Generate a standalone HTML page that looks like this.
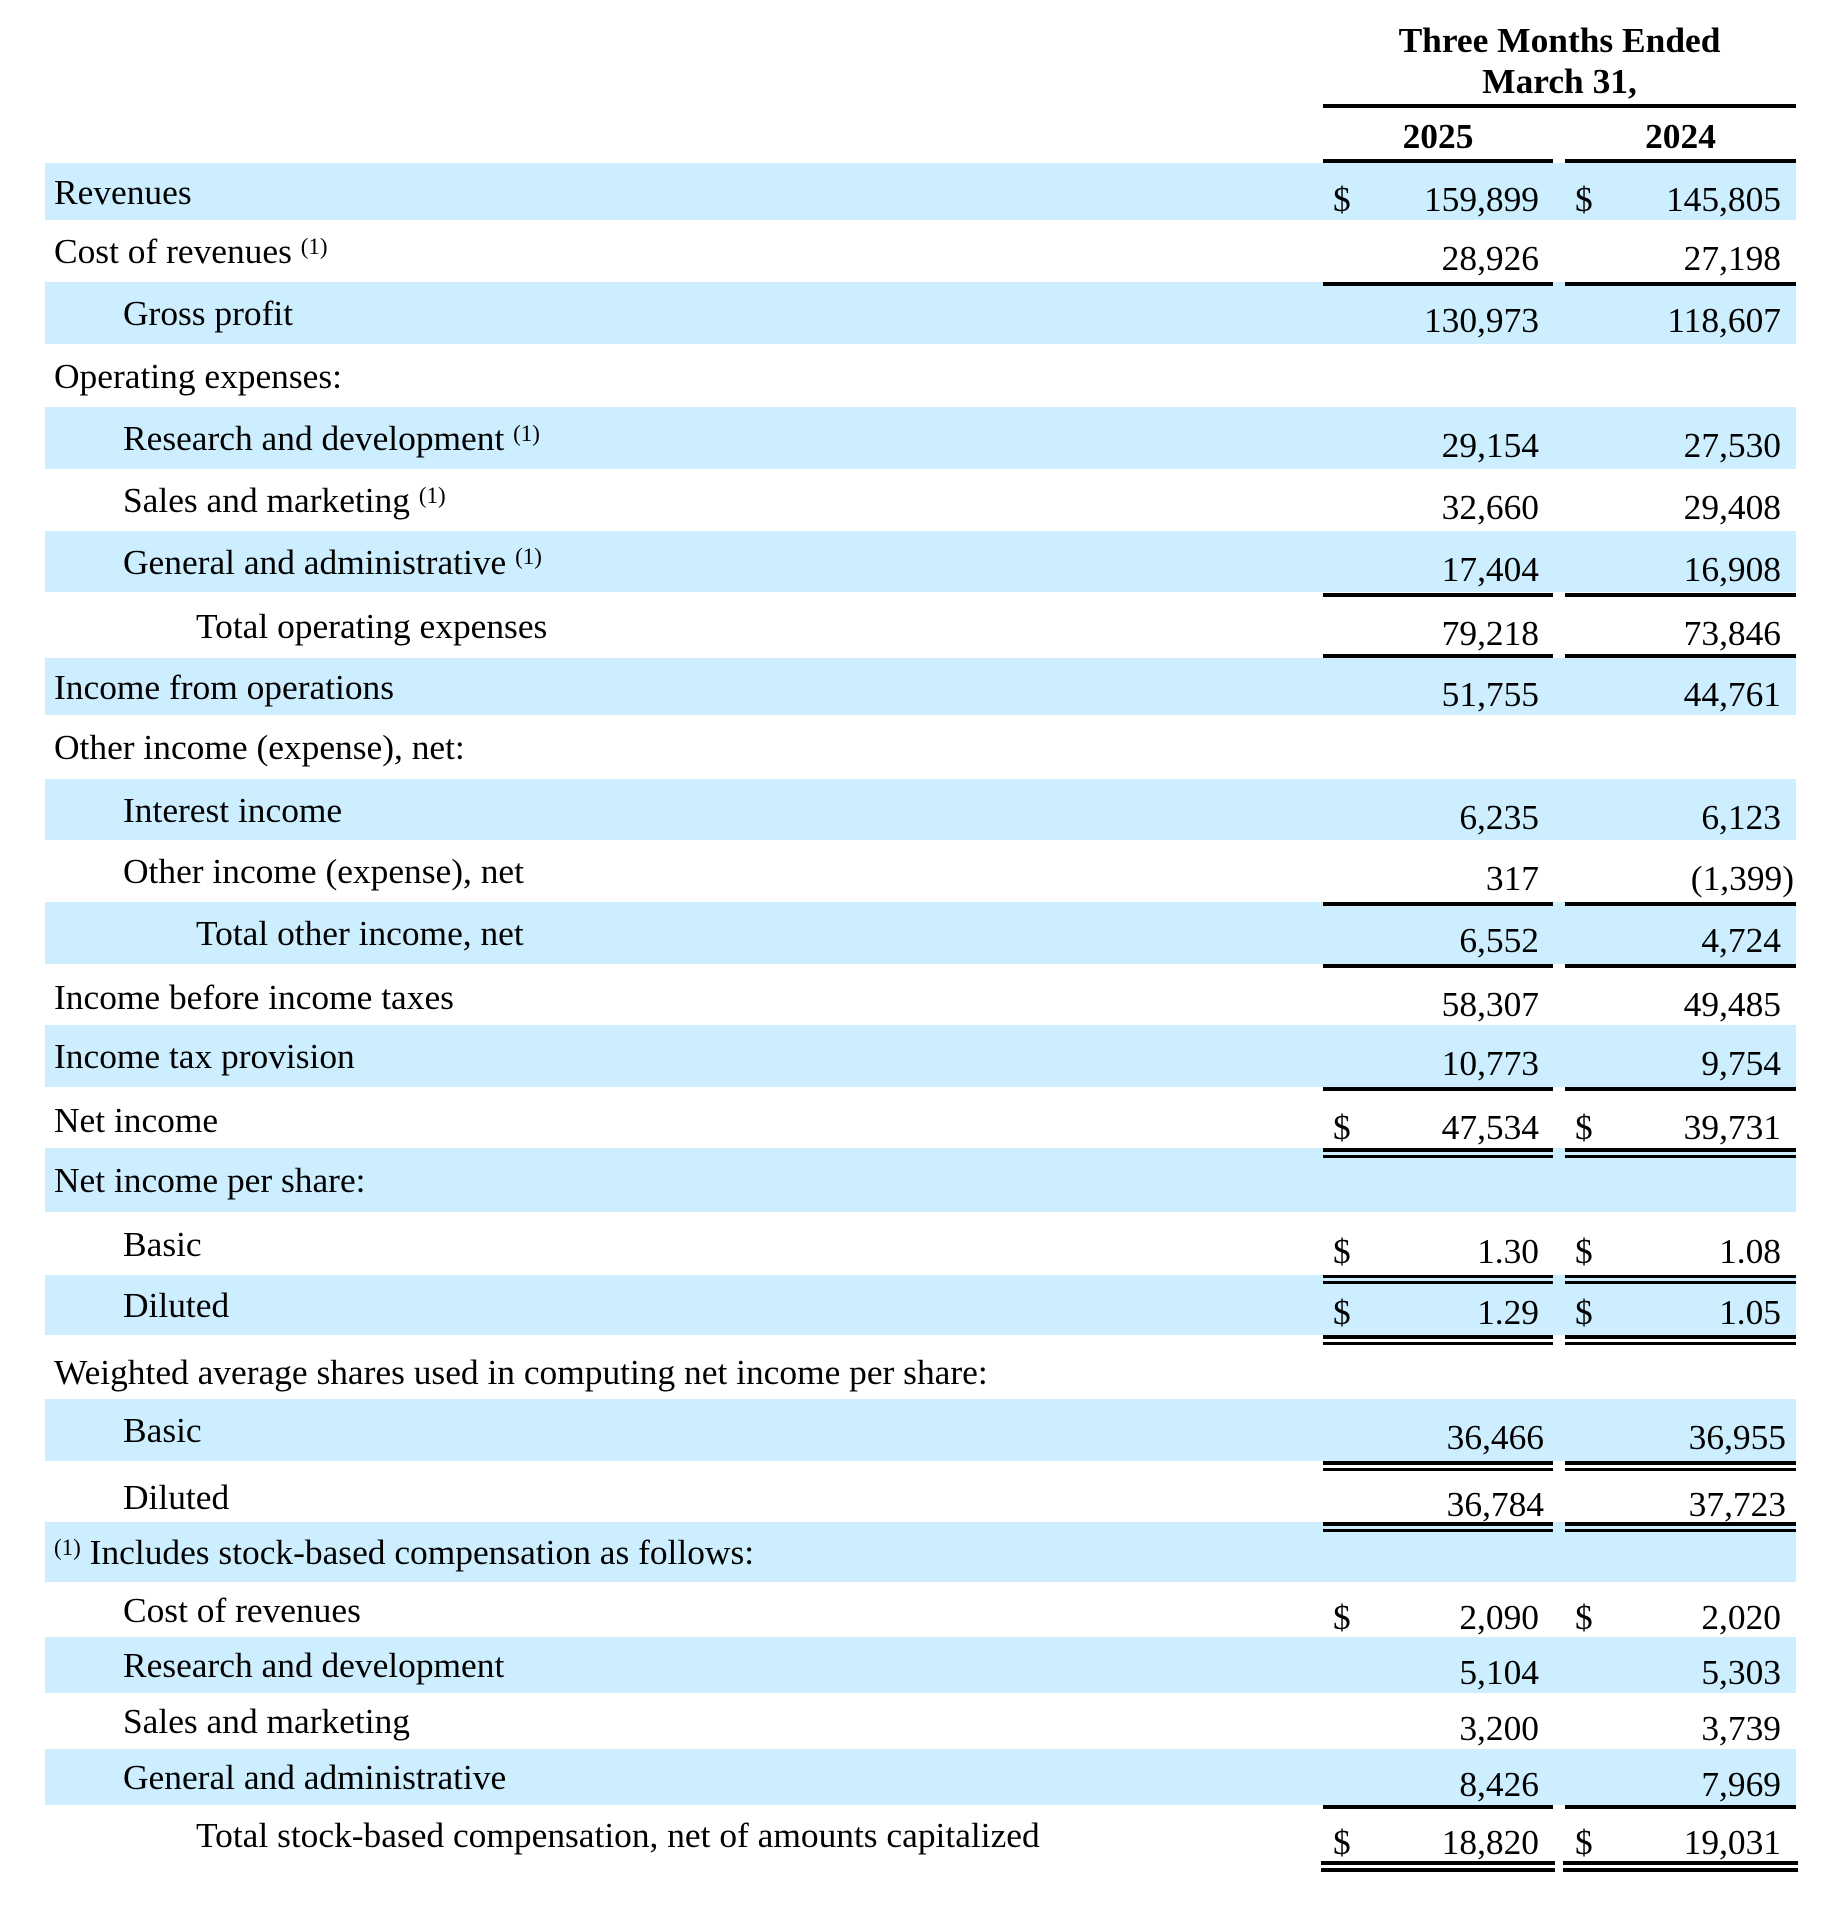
<!DOCTYPE html>
<html><head><meta charset="utf-8"><style>
html,body{margin:0;padding:0;background:#fff;}
body{width:1822px;height:1906px;position:relative;overflow:hidden;font-family:"Liberation Serif","Times New Roman",serif;color:#000;}
.r{position:absolute;left:45px;width:1751px;}
.b{background:#cceeff;}
.t{position:absolute;top:0;bottom:0;display:flex;align-items:center;font-size:35.4px;white-space:nowrap;}
.n{position:absolute;top:7px;bottom:-7px;display:flex;align-items:center;font-size:35.4px;white-space:nowrap;}
.l{position:absolute;background:#000;}
sup{font-size:23px;position:relative;top:-5px;vertical-align:top;line-height:1;}
.h{position:absolute;font-weight:bold;font-size:35.4px;white-space:nowrap;text-align:center;}
</style></head><body>

<div class="h" style="left:1323px;width:473px;top:19px;line-height:42px">Three Months Ended</div>
<div class="h" style="left:1323px;width:473px;top:60px;line-height:42px">March 31,</div>
<div class="h" style="left:1323px;width:230px;top:115px;line-height:42px">2025</div>
<div class="h" style="left:1565px;width:231px;top:115px;line-height:42px">2024</div>

<div class="r b" style="top:163px;height:57px"><div class="t" style="left:9px">Revenues</div><div class="n" style="left:1288px">$</div><div class="n" style="right:257px">159,899</div><div class="n" style="left:1530px">$</div><div class="n" style="right:15px">145,805</div></div>
<div class="r" style="top:220px;height:62px"><div class="t" style="left:9px">Cost of revenues&nbsp;<sup>(1)</sup></div><div class="n" style="right:257px">28,926</div><div class="n" style="right:15px">27,198</div></div>
<div class="r b" style="top:282px;height:62px"><div class="t" style="left:78px">Gross profit</div><div class="n" style="right:257px">130,973</div><div class="n" style="right:15px">118,607</div></div>
<div class="r" style="top:344px;height:63px"><div class="t" style="left:9px">Operating expenses:</div></div>
<div class="r b" style="top:407px;height:62px"><div class="t" style="left:78px">Research and development&nbsp;<sup>(1)</sup></div><div class="n" style="right:257px">29,154</div><div class="n" style="right:15px">27,530</div></div>
<div class="r" style="top:469px;height:62px"><div class="t" style="left:78px">Sales and marketing&nbsp;<sup>(1)</sup></div><div class="n" style="right:257px">32,660</div><div class="n" style="right:15px">29,408</div></div>
<div class="r b" style="top:531px;height:61px"><div class="t" style="left:78px">General and administrative&nbsp;<sup>(1)</sup></div><div class="n" style="right:257px">17,404</div><div class="n" style="right:15px">16,908</div></div>
<div class="r" style="top:597px;height:57px"><div class="t" style="left:151px">Total operating expenses</div><div class="n" style="right:257px">79,218</div><div class="n" style="right:15px">73,846</div></div>
<div class="r b" style="top:658px;height:57px"><div class="t" style="left:9px">Income from operations</div><div class="n" style="right:257px">51,755</div><div class="n" style="right:15px">44,761</div></div>
<div class="r" style="top:715px;height:64px"><div class="t" style="left:9px">Other income (expense), net:</div></div>
<div class="r b" style="top:779px;height:61px"><div class="t" style="left:78px">Interest income</div><div class="n" style="right:257px">6,235</div><div class="n" style="right:15px">6,123</div></div>
<div class="r" style="top:840px;height:62px"><div class="t" style="left:78px">Other income (expense), net</div><div class="n" style="right:257px">317</div><div class="n" style="right:2px">(1,399)</div></div>
<div class="r b" style="top:902px;height:62px"><div class="t" style="left:151px">Total other income, net</div><div class="n" style="right:257px">6,552</div><div class="n" style="right:15px">4,724</div></div>
<div class="r" style="top:968px;height:57px"><div class="t" style="left:9px">Income before income taxes</div><div class="n" style="right:257px">58,307</div><div class="n" style="right:15px">49,485</div></div>
<div class="r b" style="top:1025px;height:62px"><div class="t" style="left:9px">Income tax provision</div><div class="n" style="right:257px">10,773</div><div class="n" style="right:15px">9,754</div></div>
<div class="r" style="top:1091px;height:57px"><div class="t" style="left:9px">Net income</div><div class="n" style="left:1288px">$</div><div class="n" style="right:257px">47,534</div><div class="n" style="left:1530px">$</div><div class="n" style="right:15px">39,731</div></div>
<div class="r b" style="top:1148px;height:64px"><div class="t" style="left:9px">Net income per share:</div></div>
<div class="r" style="top:1212px;height:63px"><div class="t" style="left:78px">Basic</div><div class="n" style="left:1288px">$</div><div class="n" style="right:257px">1.30</div><div class="n" style="left:1530px">$</div><div class="n" style="right:15px">1.08</div></div>
<div class="r b" style="top:1275px;height:60px"><div class="t" style="left:78px">Diluted</div><div class="n" style="left:1288px">$</div><div class="n" style="right:257px">1.29</div><div class="n" style="left:1530px">$</div><div class="n" style="right:15px">1.05</div></div>
<div class="r" style="top:1345px;height:54px"><div class="t" style="left:9px">Weighted average shares used in computing net income per share:</div></div>
<div class="r b" style="top:1399px;height:62px"><div class="t" style="left:78px">Basic</div><div class="n" style="right:252px">36,466</div><div class="n" style="right:10px">36,955</div></div>
<div class="r" style="top:1471px;height:51px"><div class="t" style="left:78px">Diluted</div><div class="n" style="right:252px">36,784</div><div class="n" style="right:10px">37,723</div></div>
<div class="r b" style="top:1522px;height:60px"><div class="t" style="left:9px"><sup>(1)</sup>&nbsp;Includes stock-based compensation as follows:</div></div>
<div class="r" style="top:1582px;height:55px"><div class="t" style="left:78px">Cost of revenues</div><div class="n" style="left:1288px">$</div><div class="n" style="right:257px">2,090</div><div class="n" style="left:1530px">$</div><div class="n" style="right:15px">2,020</div></div>
<div class="r b" style="top:1637px;height:56px"><div class="t" style="left:78px">Research and development</div><div class="n" style="right:257px">5,104</div><div class="n" style="right:15px">5,303</div></div>
<div class="r" style="top:1693px;height:56px"><div class="t" style="left:78px">Sales and marketing</div><div class="n" style="right:257px">3,200</div><div class="n" style="right:15px">3,739</div></div>
<div class="r b" style="top:1749px;height:56px"><div class="t" style="left:78px">General and administrative</div><div class="n" style="right:257px">8,426</div><div class="n" style="right:15px">7,969</div></div>
<div class="r" style="top:1809px;height:52px"><div class="t" style="left:151px">Total stock-based compensation, net of amounts capitalized</div><div class="n" style="left:1288px">$</div><div class="n" style="right:257px">18,820</div><div class="n" style="left:1530px">$</div><div class="n" style="right:15px">19,031</div></div>

<div class="l" style="left:1323px;width:473px;height:4px;top:104px"></div>
<div class="l" style="left:1323px;top:159px;width:230px;height:4px"></div>
<div class="l" style="left:1565px;top:159px;width:231px;height:4px"></div>
<div class="l" style="left:1323px;top:282px;width:230px;height:4px"></div><div class="l" style="left:1565px;top:282px;width:231px;height:4px"></div>
<div class="l" style="left:1323px;top:593px;width:230px;height:4px"></div><div class="l" style="left:1565px;top:593px;width:231px;height:4px"></div>
<div class="l" style="left:1323px;top:654px;width:230px;height:4px"></div><div class="l" style="left:1565px;top:654px;width:231px;height:4px"></div>
<div class="l" style="left:1323px;top:902px;width:230px;height:4px"></div><div class="l" style="left:1565px;top:902px;width:231px;height:4px"></div>
<div class="l" style="left:1323px;top:964px;width:230px;height:4px"></div><div class="l" style="left:1565px;top:964px;width:231px;height:4px"></div>
<div class="l" style="left:1323px;top:1087px;width:230px;height:4px"></div><div class="l" style="left:1565px;top:1087px;width:231px;height:4px"></div>
<div class="l" style="left:1323px;top:1805px;width:230px;height:4px"></div><div class="l" style="left:1565px;top:1805px;width:231px;height:4px"></div>
<div class="l" style="left:1323px;top:1148px;width:230px;height:4px"></div><div class="l" style="left:1565px;top:1148px;width:231px;height:4px"></div>
<div class="l" style="left:1323px;top:1155px;width:230px;height:3px"></div><div class="l" style="left:1565px;top:1155px;width:231px;height:3px"></div>
<div class="l" style="left:1323px;top:1275px;width:230px;height:3px"></div><div class="l" style="left:1565px;top:1275px;width:231px;height:3px"></div>
<div class="l" style="left:1323px;top:1281px;width:230px;height:3px"></div><div class="l" style="left:1565px;top:1281px;width:231px;height:3px"></div>
<div class="l" style="left:1323px;top:1335px;width:230px;height:4px"></div><div class="l" style="left:1565px;top:1335px;width:231px;height:4px"></div>
<div class="l" style="left:1323px;top:1342px;width:230px;height:3px"></div><div class="l" style="left:1565px;top:1342px;width:231px;height:3px"></div>
<div class="l" style="left:1323px;top:1461px;width:230px;height:4px"></div><div class="l" style="left:1565px;top:1461px;width:231px;height:4px"></div>
<div class="l" style="left:1323px;top:1468px;width:230px;height:3px"></div><div class="l" style="left:1565px;top:1468px;width:231px;height:3px"></div>
<div class="l" style="left:1323px;top:1522px;width:230px;height:4px"></div><div class="l" style="left:1565px;top:1522px;width:231px;height:4px"></div>
<div class="l" style="left:1323px;top:1529px;width:230px;height:3px"></div><div class="l" style="left:1565px;top:1529px;width:231px;height:3px"></div>
<div class="l" style="left:1321px;top:1861px;width:234px;height:4px"></div><div class="l" style="left:1563px;top:1861px;width:235px;height:4px"></div>
<div class="l" style="left:1321px;top:1868px;width:234px;height:4px"></div><div class="l" style="left:1563px;top:1868px;width:235px;height:4px"></div>
</body></html>
